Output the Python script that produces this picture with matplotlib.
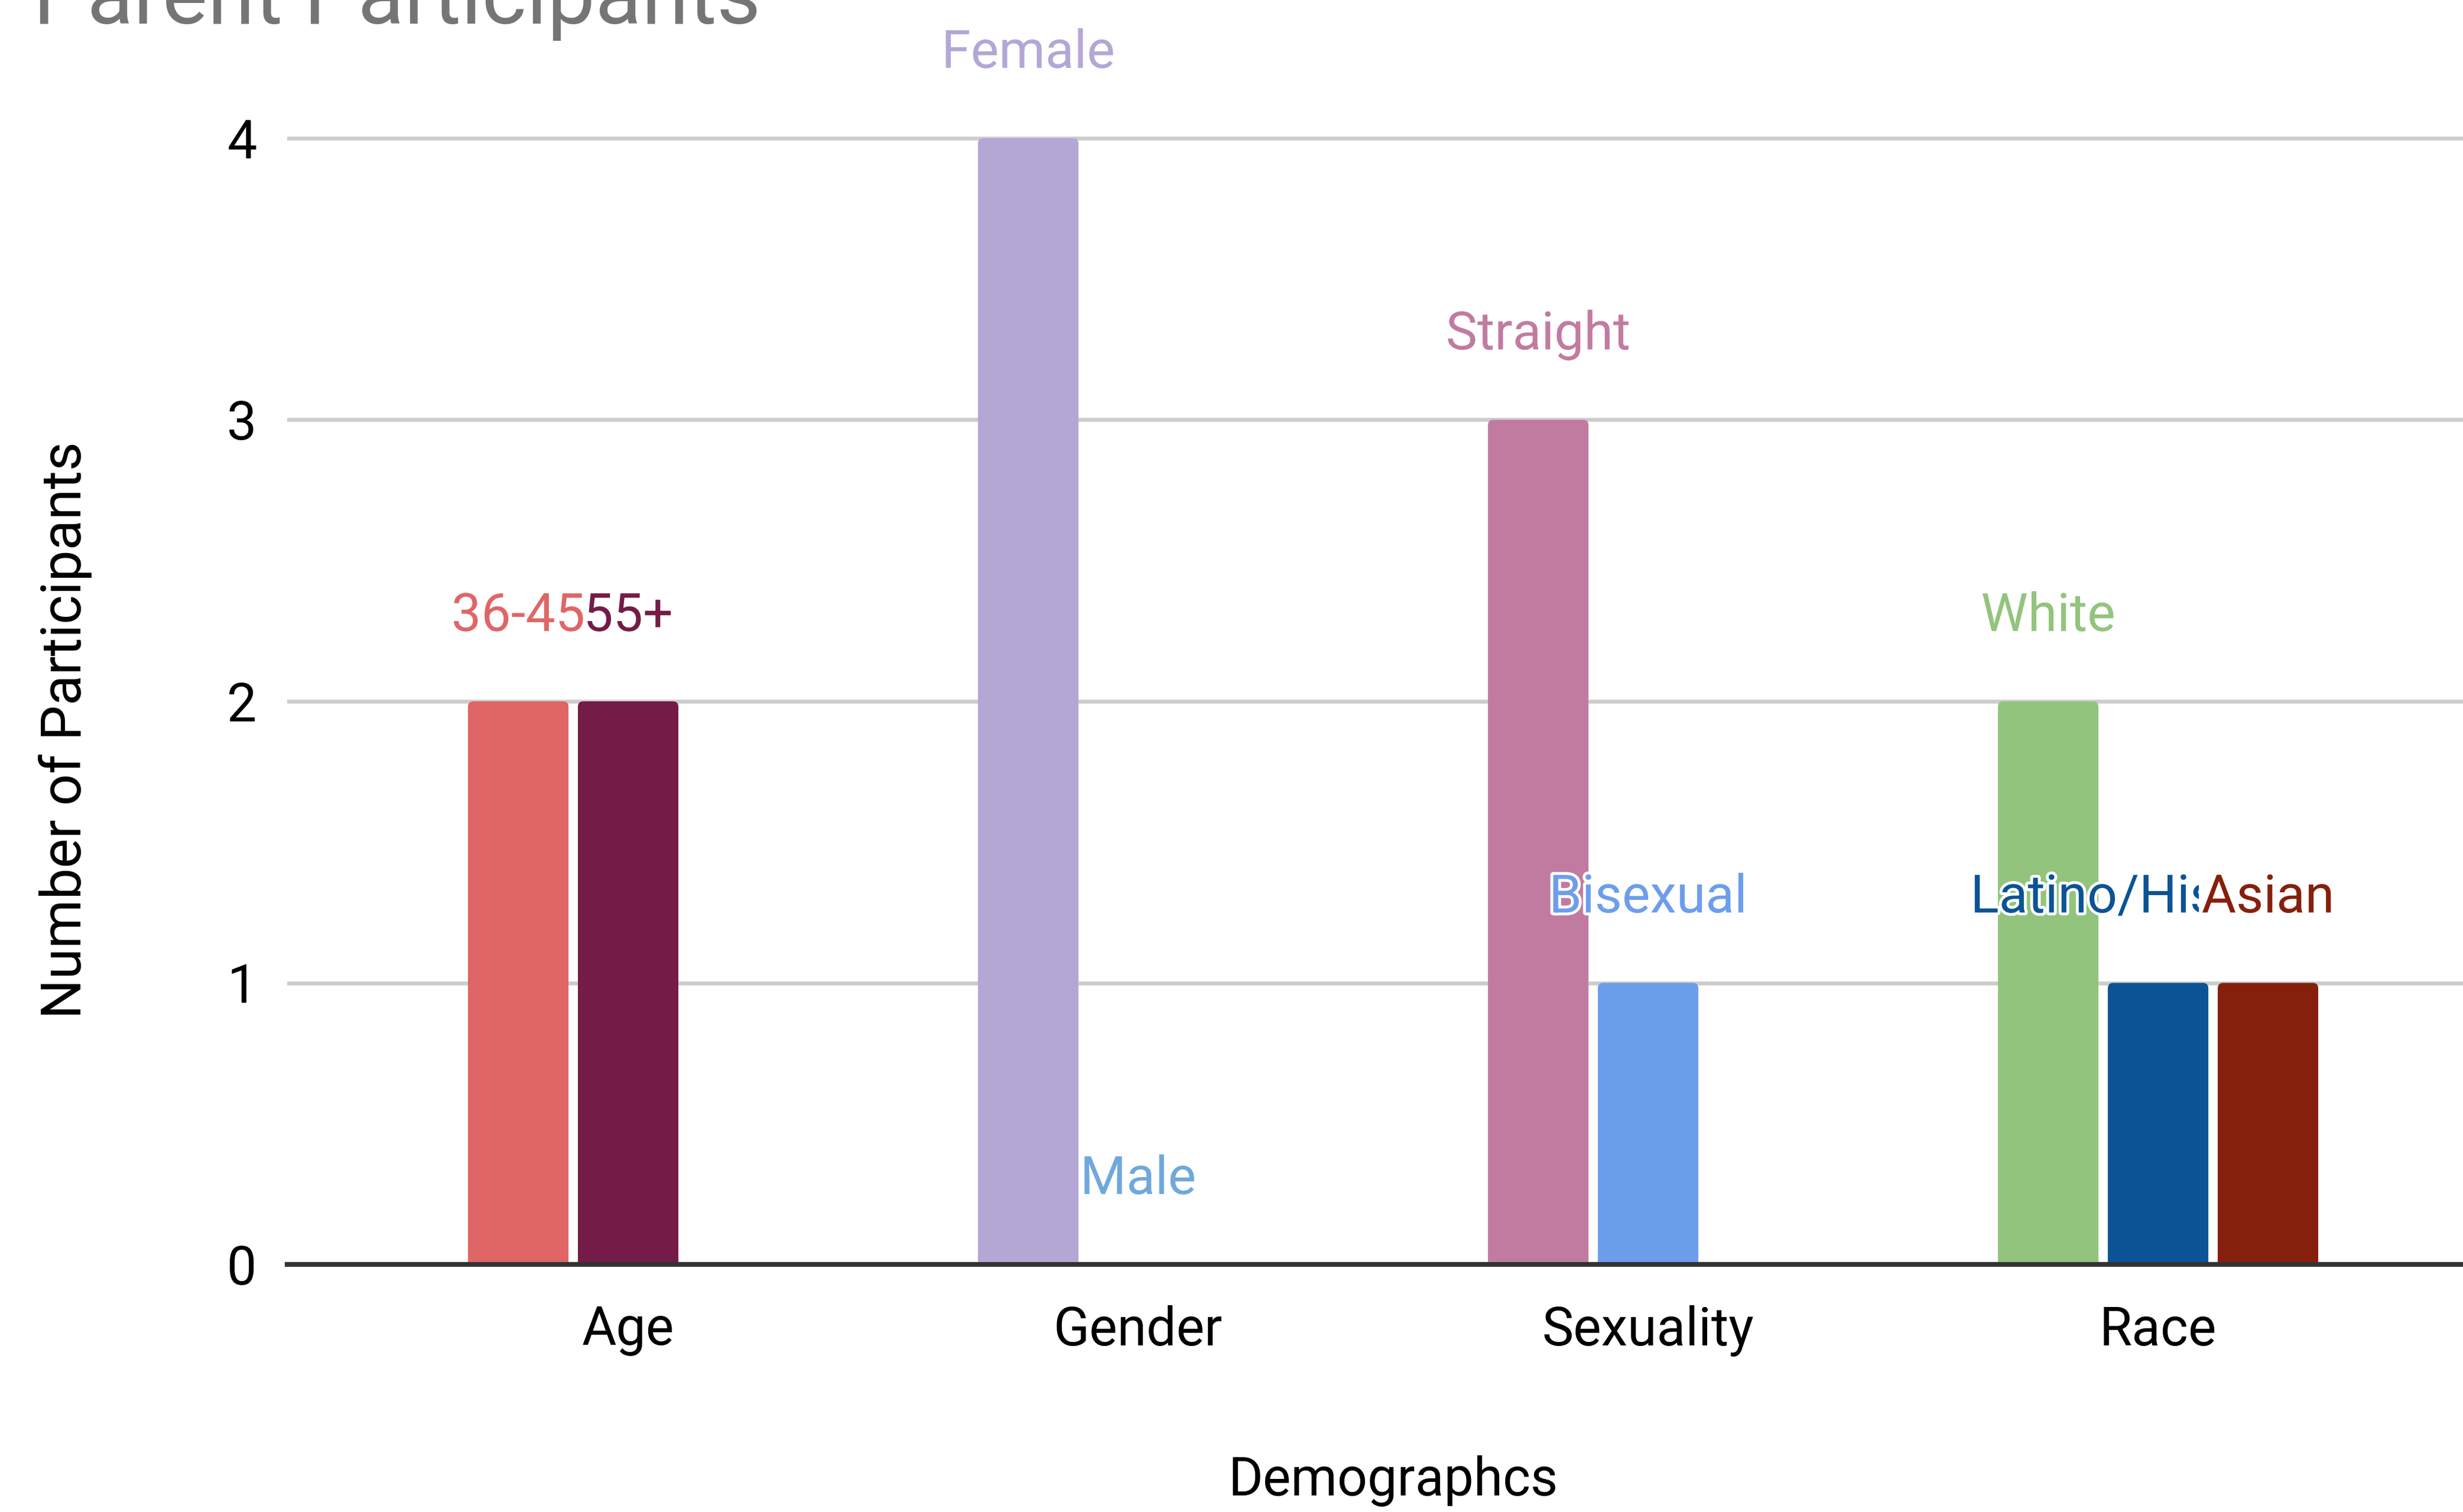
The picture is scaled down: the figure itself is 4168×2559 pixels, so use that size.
import matplotlib
matplotlib.use("Agg")
from matplotlib import pyplot as plt
from matplotlib import patheffects as pe
from matplotlib.patches import FancyBboxPatch
from matplotlib.transforms import Bbox, TransformedBbox
import numpy as np

# data
categories = ["Age", "Gender", "Sexuality", "Race"]
group_labels = [["36-45", "55+"],
                ["Female", "Male"],
                ["Straight", "Bisexual"],
                ["White", "Latino/Hispanic", "Asian"]]
group_values = [[2, 2], [4, 0], [3, 1], [2, 1, 1]]
group_colors = [["#E06666", "#741B47"],
                ["#B4A7D6", "#6FA8DC"],
                ["#C27BA0", "#6D9EEB"],
                ["#93C47D", "#0B5394", "#85200C"]]
yticks = [0, 1, 2, 3, 4]

plt.rcParams["font.family"] = ["Roboto", "DejaVu Sans"]

W, H, DPI = 4168, 2559, 100
FS = 64.5
fig = plt.figure(figsize=(W / DPI, H / DPI), dpi=DPI)

# axes geometry in pixels of the reference
x_left, y_zero, y_four = 486, 2140, 234
unit = (y_zero - y_four) / 4
ytop = 4.4
cat_pitch = 863
x_lo = -(1063 - x_left) / cat_pitch
x_hi = 3 - x_lo
ax_w = (x_hi - x_lo) * cat_pitch
ax_top_px = y_zero - ytop * unit
ax = fig.add_axes([x_left / W, 1 - y_zero / H, ax_w / W, (y_zero - ax_top_px) / H])
ax.set_xlim(x_lo, x_hi)
ax.set_ylim(0, ytop)

slot = 186 / cat_pitch
bar_w = 170 / cat_pitch
aspect = cat_pitch / unit          # y data units per x data unit, per pixel
rad = 9 / cat_pitch                # corner radius, x units
halo = [pe.withStroke(linewidth=7, foreground="white")]

for i, (labs, vals, cols) in enumerate(zip(group_labels, group_values, group_colors)):
    xs = i + (np.arange(len(vals)) - 1) * slot
    bars = ax.bar(xs, vals, width=bar_w, color=cols, zorder=2)
    # swap plain rectangles for ones with rounded tops
    for b in bars:
        h = b.get_height()
        if h <= 0:
            b.remove()
            continue
        fb = FancyBboxPatch((b.get_x(), -rad * aspect), b.get_width(), h + rad * aspect,
                            boxstyle=f"round,pad=0,rounding_size={rad}",
                            mutation_aspect=aspect, fc=b.get_facecolor(), ec="none",
                            zorder=2)
        ax.add_patch(fb)
        b.remove()
    for j, (x, v, lab, c) in enumerate(zip(xs, vals, labs, cols)):
        t = ax.text(x, v + 0.25, lab, color=c, fontsize=FS, ha="center",
                    va="baseline", zorder=5 + j, path_effects=halo, clip_on=False)
        if lab == "Latino/Hispanic":
            # long label gets cut where the next label begins
            cut = xs[j + 1] - 0.136
            box = Bbox([[x_lo, 0], [cut, ytop]])
            t.set_clip_box(TransformedBbox(box, ax.transData))
            t.set_clip_on(True)

ax.set_yticks(yticks)
ax.set_xticks(range(len(categories)))
ax.set_xticklabels(categories)
ax.tick_params(axis="both", length=0, labelsize=FS, colors="#000000")
ax.tick_params(axis="y", pad=37)
ax.tick_params(axis="x", pad=50)
ax.grid(axis="y", color="#cccccc", lw=4.7, zorder=0)
ax.set_axisbelow(True)
for s in ax.spines.values():
    s.set_visible(False)
ax.axhline(0, color="#333333", lw=5.8, zorder=4, clip_on=False)

fig.text(56 / W, 1 - 40 / H, "Parent Participants", fontsize=104,
         color="#757575", ha="left", va="baseline")
fig.text(110 / W, 1 - 1236 / H, "Number of Participants", fontsize=68,
         rotation=90, ha="center", va="center", color="#000000")
fig.text(2358 / W, 1 - 2507 / H, "Demographcs", fontsize=FS,
         ha="center", va="center", color="#000000")

fig.savefig("out.png", dpi=DPI, facecolor="white")
